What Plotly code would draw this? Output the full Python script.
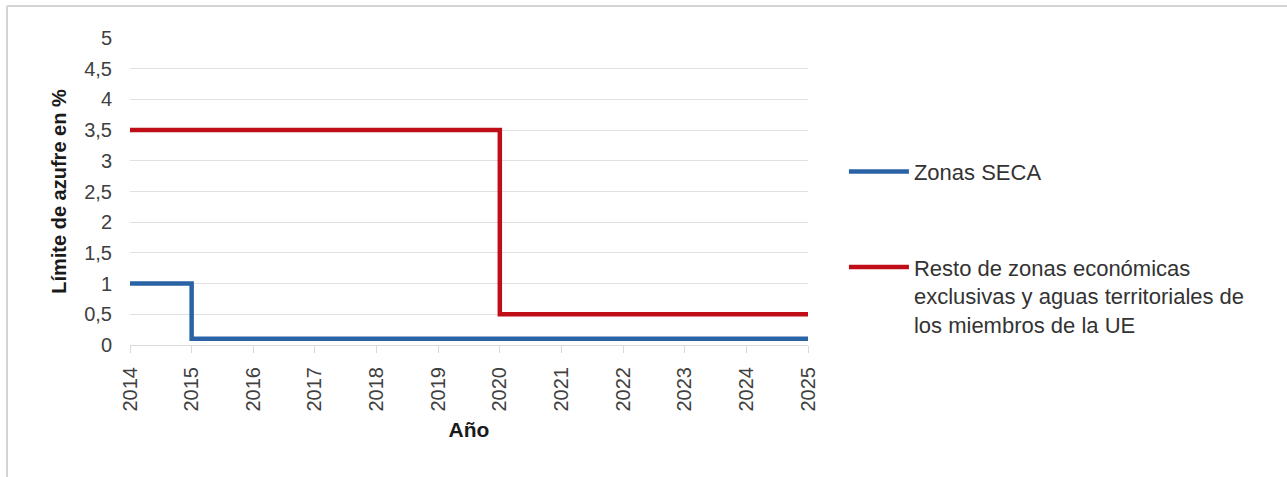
import plotly.graph_objects as go

years = list(range(2014, 2026))
seca = [1, 0.1, 0.1, 0.1, 0.1, 0.1, 0.1, 0.1, 0.1, 0.1, 0.1, 0.1]
resto = [3.5, 3.5, 3.5, 3.5, 3.5, 3.5, 0.5, 0.5, 0.5, 0.5, 0.5, 0.5]
y_ticks = [0, 0.5, 1, 1.5, 2, 2.5, 3, 3.5, 4, 4.5, 5]
y_tick_text = ["0", "0,5", "1", "1,5", "2", "2,5", "3", "3,5", "4", "4,5", "5"]

FONT = "Liberation Sans, Arial, sans-serif"

fig = go.Figure()
fig.add_trace(go.Scatter(
    x=years, y=seca, mode="lines", line=dict(color="#2A62A6", width=4.5, shape="hv"),
    name="Zonas SECA", legendgroup="a",
))
fig.add_trace(go.Scatter(
    x=years, y=resto, mode="lines", line=dict(color="#C00E18", width=4.5, shape="hv"),
    name="Resto de zonas económicas<br>exclusivas y aguas territoriales de<br>los miembros de la UE",
    legendgroup="b",
))

fig.update_layout(
    width=1287, height=477,
    margin=dict(l=130, r=479, t=38, b=132),
    paper_bgcolor="white", plot_bgcolor="white",
    font=dict(family=FONT, size=20, color="#404040"),
    showlegend=True,
    legend=dict(
        x=1.053, y=0.633, xanchor="left", yanchor="top",
        font=dict(family=FONT, size=22, color="#333333"),
        tracegroupgap=64, valign="top", itemwidth=60,
    ),
    xaxis=dict(
        range=[2014, 2025], tickmode="array", tickvals=years,
        ticktext=[str(y) for y in years], tickangle=-90,
        showgrid=False, zeroline=False,
        showline=True, linecolor="#d9d9d9", linewidth=1,
        ticks="outside", ticklen=7, tickcolor="#d9d9d9",
        ticklabelstandoff=6,
        tickfont=dict(size=20, color="#404040"),
        title=dict(text="<b>Año</b>", font=dict(size=21, color="#1a1a1a"), standoff=11),
    ),
    yaxis=dict(
        range=[0, 5], tickmode="array", tickvals=y_ticks, ticktext=y_tick_text,
        showgrid=True, gridcolor="#e0e0e0", gridwidth=1,
        zeroline=False, showline=False, ticks="", ticklabelstandoff=17,
        tickfont=dict(size=20, color="#404040"),
        title=dict(text="<b>Límite de azufre en %</b>", font=dict(size=20, color="#1a1a1a"), standoff=12),
    ),
    shapes=[
        dict(type="line", xref="paper", yref="paper", x0=-0.1814, x1=1.75, y0=1.104, y1=1.104,
             line=dict(color="#d4d4d4", width=2)),
        dict(type="line", xref="paper", yref="paper", x0=-0.1814, x1=-0.1814, y0=1.104, y1=-0.45,
             line=dict(color="#d4d4d4", width=2)),
    ],
)

fig.write_html("out.html")
